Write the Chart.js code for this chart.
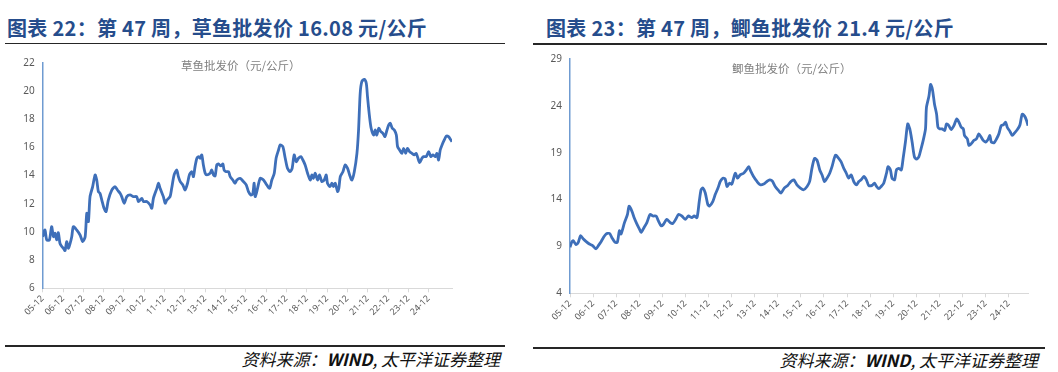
<!DOCTYPE html>
<html>
<head>
<meta charset="utf-8">
<script src="https://cdn.jsdelivr.net/npm/chart.js@4.4.1/dist/chart.umd.min.js"></script>
<style>
    body { margin: 0; width: 1058px; height: 372px; background: #fff; position: relative; overflow: hidden; font-family: "Noto Sans CJK SC", sans-serif; }
    .title { position: absolute; font-size: 20px; font-weight: bold; color: #264d8c; white-space: nowrap; line-height: 28px; letter-spacing: 0.3px; }
    .rule { position: absolute; height: 1.5px; background: #262626; }
    .src { position: absolute; font-style: italic; font-size: 17px; color: #111; white-space: nowrap; line-height: 22px; text-align: right; }
    .legend { position: absolute; font-size: 11.5px; color: #7f7f7f; white-space: nowrap; line-height: 16px; }
    canvas { position: absolute; }
</style>
</head>
<body>
<div class="title" style="left:7px;top:14px">图表 22：第 47 周，草鱼批发价 16.08 元/公斤</div>
<div class="rule" style="left:5px;top:42.5px;width:500px"></div>
<canvas id="grassChart" width="530" height="300" style="left:0;top:45px"></canvas>
<div class="legend" style="left:181px;top:57px">草鱼批发价（元/公斤）</div>
<div class="rule" style="left:5px;top:345px;width:500px"></div>
<div class="src" style="right:558px;top:348px">资料来源：<b>WIND</b>, 太平洋证券整理</div>

<div class="title" style="left:546px;top:14px">图表 23：第 47 周，鲫鱼批发价 21.4 元/公斤</div>
<div class="rule" style="left:533px;top:43px;width:514px"></div>
<canvas id="crucianChart" width="528" height="300" style="left:530px;top:45px"></canvas>
<div class="legend" style="left:732px;top:60px">鲫鱼批发价（元/公斤）</div>
<div class="rule" style="left:533px;top:347px;width:512px"></div>
<div class="src" style="right:20px;top:349px">资料来源：<b>WIND</b>, 太平洋证券整理</div>

<script>
// x 轴刻度（每年 12 月）
const tickLabels = ['05-12', '06-12', '07-12', '08-12', '09-12', '10-12', '11-12', '12-12', '13-12', '14-12',
    '15-12', '16-12', '17-12', '18-12', '19-12', '20-12', '21-12', '22-12', '23-12', '24-12'];

// 草鱼：时间（距 05-12 的年数）与批发价（元/公斤）
const grassTime = [0.00, 0.11, 0.20, 0.33, 0.44, 0.53, 0.61, 0.69, 0.77, 0.85, 0.94, 1.02, 1.10, 1.18, 1.26, 1.35, 1.43, 1.51, 1.67, 1.84,
    1.97, 2.09, 2.17, 2.25, 2.33, 2.46, 2.58, 2.66, 2.74, 2.82, 2.91, 3.02, 3.12, 3.23, 3.40, 3.56, 3.68, 3.81, 3.89, 4.01,
    4.14, 4.30, 4.47, 4.63, 4.71, 4.88, 4.96, 5.12, 5.29, 5.37, 5.45, 5.62, 5.70, 5.78, 5.94, 6.03, 6.11, 6.27, 6.35, 6.47,
    6.60, 6.68, 6.77, 6.90, 7.01, 7.13, 7.22, 7.34, 7.42, 7.50, 7.59, 7.67, 7.75, 7.83, 7.91, 8.00, 8.08, 8.24, 8.32, 8.41,
    8.49, 8.57, 8.65, 8.77, 8.87, 8.93, 9.03, 9.15, 9.23, 9.36, 9.47, 9.56, 9.72, 9.88, 10.02, 10.13, 10.25, 10.34, 10.41, 10.46,
    10.54, 10.71, 10.87, 11.03, 11.17, 11.28, 11.40, 11.49, 11.61, 11.69, 11.82, 11.94, 12.05, 12.18, 12.28, 12.38, 12.48, 12.59, 12.71, 12.81,
    12.92, 13.04, 13.17, 13.25, 13.33, 13.42, 13.53, 13.63, 13.74, 13.86, 13.96, 14.02, 14.15, 14.24, 14.32, 14.40, 14.52, 14.58, 14.65, 14.78,
    14.89, 15.01, 15.11, 15.22, 15.34, 15.47, 15.55, 15.63, 15.71, 15.83, 15.93, 15.99, 16.09, 16.17, 16.29, 16.37, 16.45, 16.54, 16.65, 16.75,
    16.85, 16.95, 17.03, 17.11, 17.21, 17.31, 17.41, 17.47, 17.57, 17.68, 17.77, 17.87, 17.96, 18.06, 18.18, 18.29, 18.39, 18.46, 18.56, 18.67,
    18.75, 18.88, 19.00, 19.11, 19.21, 19.33, 19.41, 19.49, 19.57, 19.66, 19.77, 19.87, 19.98, 20.07, 20.15];
const grassPrice = [9.66, 10.14, 9.43, 9.43, 10.37, 9.66, 9.90, 9.43, 9.95, 9.19, 8.96, 8.84, 8.67, 9.31, 8.84, 9.19, 9.66, 10.37, 10.14, 9.78,
    9.31, 9.66, 11.32, 10.73, 12.50, 13.21, 14.04, 13.68, 12.86, 12.74, 12.26, 11.67, 11.44, 12.26, 12.97, 13.21, 12.97, 12.74, 12.50, 12.03,
    12.50, 12.62, 12.50, 12.50, 12.15, 12.38, 12.15, 12.15, 11.91, 11.67, 12.38, 13.09, 13.45, 13.09, 12.50, 12.03, 12.26, 12.50, 13.09, 14.04,
    14.39, 13.92, 13.57, 13.33, 12.97, 13.45, 14.04, 14.27, 13.92, 14.63, 15.22, 15.34, 15.22, 15.46, 14.75, 14.16, 14.04, 14.16, 14.39, 14.04,
    13.97, 14.75, 14.82, 14.68, 14.82, 14.39, 14.27, 14.27, 13.92, 13.68, 13.45, 13.68, 13.80, 13.57, 13.33, 12.86, 12.62, 12.69, 13.45, 12.50,
    12.86, 13.80, 13.68, 13.33, 13.09, 13.68, 14.16, 15.22, 15.81, 16.17, 16.05, 15.22, 14.51, 14.27, 14.51, 15.46, 14.98, 15.22, 15.34, 15.10,
    14.75, 14.16, 13.68, 14.04, 13.80, 14.16, 13.68, 14.04, 13.57, 13.68, 14.04, 13.45, 13.21, 13.45, 13.21, 13.45, 12.86, 13.09, 13.92, 14.27,
    14.75, 14.51, 14.04, 13.68, 14.27, 15.57, 17.23, 19.83, 20.66, 20.82, 20.54, 19.59, 18.17, 17.35, 16.87, 17.23, 16.87, 17.35, 17.11, 16.99,
    16.76, 17.23, 17.58, 17.70, 17.35, 17.23, 16.87, 16.05, 15.81, 15.57, 15.93, 15.57, 15.93, 15.69, 15.57, 15.46, 15.57, 15.29, 14.91, 15.22,
    15.34, 15.34, 15.69, 15.34, 15.46, 15.34, 15.57, 15.10, 15.81, 16.17, 16.52, 16.80, 16.76, 16.57, 16.40];

// 鲫鱼：时间（距 05-12 的年数）与批发价（元/公斤）
const crucianTime = [0.00, 0.07, 0.14, 0.26, 0.36, 0.46, 0.58, 0.69, 0.84, 0.98, 1.13, 1.23, 1.33, 1.45, 1.56, 1.71, 1.81, 1.95, 2.05, 2.14,
    2.21, 2.36, 2.49, 2.56, 2.68, 2.78, 2.89, 3.01, 3.08, 3.21, 3.33, 3.47, 3.59, 3.73, 3.83, 3.95, 4.05, 4.19, 4.34, 4.45,
    4.58, 4.70, 4.84, 4.99, 5.13, 5.28, 5.38, 5.50, 5.60, 5.68, 5.76, 5.86, 5.97, 6.04, 6.19, 6.29, 6.41, 6.51, 6.62, 6.72,
    6.80, 6.91, 7.01, 7.16, 7.26, 7.37, 7.52, 7.64, 7.74, 7.84, 7.95, 8.10, 8.24, 8.39, 8.53, 8.65, 8.76, 8.89, 9.04, 9.14,
    9.28, 9.43, 9.57, 9.69, 9.83, 9.98, 10.12, 10.27, 10.38, 10.48, 10.59, 10.70, 10.82, 10.92, 11.02, 11.13, 11.25, 11.35, 11.50, 11.64,
    11.74, 11.86, 11.97, 12.07, 12.18, 12.29, 12.41, 12.51, 12.61, 12.73, 12.84, 12.94, 13.09, 13.19, 13.28, 13.38, 13.48, 13.59, 13.71, 13.78,
    13.88, 13.95, 14.06, 14.14, 14.24, 14.35, 14.43, 14.53, 14.63, 14.72, 14.82, 14.92, 15.01, 15.11, 15.21, 15.30, 15.40, 15.44, 15.55, 15.62,
    15.70, 15.79, 15.88, 15.94, 16.02, 16.12, 16.23, 16.31, 16.41, 16.51, 16.63, 16.75, 16.85, 16.95, 17.04, 17.09, 17.21, 17.28, 17.38, 17.50,
    17.61, 17.71, 17.81, 17.90, 18.00, 18.11, 18.19, 18.25, 18.37, 18.48, 18.58, 18.68, 18.77, 18.87, 18.94, 19.06, 19.16, 19.26, 19.38, 19.49,
    19.59, 19.70, 19.78, 19.84];
const crucianPrice = [8.91, 9.44, 9.61, 9.19, 9.44, 10.14, 9.79, 9.54, 9.26, 9.09, 8.74, 9.09, 9.44, 9.96, 10.32, 10.39, 9.96, 9.44, 9.44, 10.67,
    10.32, 11.54, 12.42, 13.30, 12.77, 12.07, 11.44, 10.84, 10.49, 11.02, 11.54, 12.42, 12.25, 12.25, 11.72, 11.19, 11.37, 11.89, 11.54, 11.44,
    11.89, 12.42, 12.25, 11.89, 12.25, 12.07, 12.25, 12.07, 13.82, 15.05, 15.23, 14.70, 13.47, 13.30, 13.82, 14.53, 15.23, 15.93, 16.28, 16.21,
    15.40, 15.75, 15.65, 16.81, 16.28, 16.63, 16.81, 17.16, 17.51, 16.98, 16.46, 15.93, 15.58, 15.65, 15.93, 16.11, 16.00, 15.40, 14.95, 14.70,
    15.23, 15.51, 15.93, 16.11, 15.58, 15.23, 15.05, 15.40, 15.93, 17.33, 18.39, 18.21, 17.16, 16.63, 15.93, 16.28, 16.81, 17.51, 18.74, 18.39,
    18.04, 17.33, 16.81, 16.28, 16.63, 15.93, 15.58, 15.93, 16.11, 16.46, 16.11, 15.51, 15.51, 15.75, 15.40, 15.16, 15.40, 15.75, 16.81, 17.51,
    17.16, 16.28, 16.11, 17.16, 17.33, 17.16, 18.39, 20.14, 22.07, 21.54, 20.14, 18.56, 18.32, 18.56, 19.44, 20.32, 21.54, 23.82, 25.05, 26.28,
    25.75, 24.18, 23.12, 21.72, 21.54, 21.54, 21.37, 22.07, 21.89, 21.47, 21.89, 22.60, 22.25, 21.72, 21.54, 20.84, 20.49, 19.79, 19.96, 20.32,
    20.49, 21.02, 20.67, 20.32, 20.14, 20.42, 20.84, 20.14, 20.07, 20.49, 21.02, 21.89, 21.96, 22.25, 21.72, 21.26, 20.84, 21.12, 21.47, 21.96,
    23.12, 22.88, 22.42, 21.89];

function toPoints(xs, ys) {
    return xs.map((x, i) => ({ x: x, y: ys[i] }));
}

// area: 坐标轴宽度/高度和留白，使绘图区与原图对齐
function renderLineChart(canvasId, points, xMax, yMin, yMax, yStep, area) {
    const canvas = document.querySelector('#' + canvasId);
    return new Chart(canvas, {
        type: 'line',
        data: {
            datasets: [{
                data: points,
                borderColor: '#3e6fb9',
                borderWidth: 2.8,
                pointRadius: 0,
                tension: 0.25,
                fill: false
            }]
        },
        options: {
            responsive: false,
            animation: false,
            devicePixelRatio: 1,
            layout: { padding: { left: 0, top: area.top, right: area.right, bottom: 0 } },
            plugins: { legend: { display: false }, tooltip: { enabled: false } },
            scales: {
                x: {
                    type: 'linear',
                    min: 0,
                    max: xMax,
                    afterBuildTicks: scale => {
                        scale.ticks = tickLabels.map((_, i) => ({ value: i }));
                    },
                    afterFit: scale => { scale.height = area.xHeight; },
                    grid: { drawOnChartArea: false, drawTicks: true, tickLength: 4, color: '#d9d9d9' },
                    border: { color: '#d9d9d9', width: 1 },
                    ticks: {
                        autoSkip: false,
                        maxRotation: 45,
                        minRotation: 45,
                        padding: 1,
                        color: '#595959',
                        font: { family: 'Noto Sans', size: 9 },
                        callback: value => tickLabels[value] || ''
                    }
                },
                y: {
                    min: yMin,
                    max: yMax,
                    afterFit: scale => { scale.width = area.yWidth; },
                    grid: { display: true, drawOnChartArea: false, drawTicks: false },
                    border: { color: '#6f9bd1', width: 1.5 },
                    ticks: {
                        stepSize: yStep,
                        padding: 8,
                        color: '#595959',
                        font: { family: 'Noto Sans', size: 10 }
                    }
                }
            }
        }
    });
}

document.addEventListener('DOMContentLoaded', () => {
    if (typeof Chart === 'undefined') {
        console.error('Chart.js 未加载');
        return;
    }
    renderLineChart('grassChart', toPoints(grassTime, grassPrice), 20.15, 6, 22, 2,
        { top: 17.7, right: 78, yWidth: 42.7, xHeight: 56.7 });
    renderLineChart('crucianChart', toPoints(crucianTime, crucianPrice), 19.84, 4, 29, 5,
        { top: 10.7, right: 30, yWidth: 40, xHeight: 51.7 });
});
</script>
</body>
</html>
